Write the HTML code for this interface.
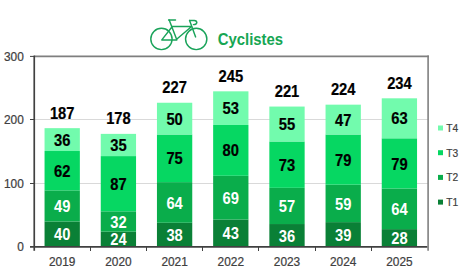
<!DOCTYPE html>
<html><head><meta charset="utf-8"><style>
html,body{margin:0;padding:0;background:#fff;}
svg{display:block;}
text{font-family:"Liberation Sans",sans-serif;}
.lb{font-size:16px;font-weight:bold;text-anchor:middle;stroke-width:0.2px;}
.ax{font-size:13.2px;fill:#404040;stroke:#404040;stroke-width:0.25px;}
.lg{font-size:11px;fill:#404040;stroke:#404040;stroke-width:0.2px;}
.tt{font-size:16px;font-weight:bold;fill:#16a653;}
</style></head><body>
<svg width="465" height="275" viewBox="0 0 465 275">
<line x1="34" y1="183.5" x2="428" y2="183.5" stroke="#d9d9d9" stroke-width="1.2"/>
<line x1="34" y1="119.5" x2="428" y2="119.5" stroke="#d9d9d9" stroke-width="1.2"/>
<rect x="44.55" y="221.50" width="35.3" height="25.40" fill="#0a8036"/>
<rect x="44.55" y="190.38" width="35.3" height="31.12" fill="#0aad4b"/>
<rect x="44.55" y="151.01" width="35.3" height="39.37" fill="#06d762"/>
<rect x="44.55" y="128.16" width="35.3" height="22.86" fill="#72fbad"/>
<text transform="translate(62.20,240.30) scale(0.92,1)" class="lb" fill="#fff">40</text>
<text transform="translate(62.20,212.04) scale(0.92,1)" class="lb" fill="#fff">49</text>
<text transform="translate(62.20,176.80) scale(0.92,1)" class="lb" fill="#000" stroke="#000">62</text>
<text transform="translate(62.20,145.68) scale(0.92,1)" class="lb" fill="#000" stroke="#000">36</text>
<text transform="translate(62.20,118.75) scale(0.92,1)" class="lb" fill="#000" stroke="#000">187</text>
<text transform="translate(62.20,266.20) scale(0.9,1)" class="ax" text-anchor="middle">2019</text>
<rect x="100.75" y="231.66" width="35.3" height="15.24" fill="#0a8036"/>
<rect x="100.75" y="211.34" width="35.3" height="20.32" fill="#0aad4b"/>
<rect x="100.75" y="156.09" width="35.3" height="55.25" fill="#06d762"/>
<rect x="100.75" y="133.87" width="35.3" height="22.22" fill="#72fbad"/>
<text transform="translate(118.40,245.38) scale(0.92,1)" class="lb" fill="#fff">24</text>
<text transform="translate(118.40,227.60) scale(0.92,1)" class="lb" fill="#fff">32</text>
<text transform="translate(118.40,189.82) scale(0.92,1)" class="lb" fill="#000" stroke="#000">87</text>
<text transform="translate(118.40,151.08) scale(0.92,1)" class="lb" fill="#000" stroke="#000">35</text>
<text transform="translate(118.40,124.47) scale(0.92,1)" class="lb" fill="#000" stroke="#000">178</text>
<text transform="translate(118.40,266.20) scale(0.9,1)" class="ax" text-anchor="middle">2020</text>
<rect x="156.95" y="222.77" width="35.3" height="24.13" fill="#0a8036"/>
<rect x="156.95" y="182.13" width="35.3" height="40.64" fill="#0aad4b"/>
<rect x="156.95" y="134.50" width="35.3" height="47.62" fill="#06d762"/>
<rect x="156.95" y="102.75" width="35.3" height="31.75" fill="#72fbad"/>
<text transform="translate(174.60,240.94) scale(0.92,1)" class="lb" fill="#fff">38</text>
<text transform="translate(174.60,208.55) scale(0.92,1)" class="lb" fill="#fff">64</text>
<text transform="translate(174.60,164.42) scale(0.92,1)" class="lb" fill="#000" stroke="#000">75</text>
<text transform="translate(174.60,124.73) scale(0.92,1)" class="lb" fill="#000" stroke="#000">50</text>
<text transform="translate(174.60,93.35) scale(0.92,1)" class="lb" fill="#000" stroke="#000">227</text>
<text transform="translate(174.60,266.20) scale(0.9,1)" class="ax" text-anchor="middle">2021</text>
<rect x="213.15" y="219.59" width="35.3" height="27.31" fill="#0a8036"/>
<rect x="213.15" y="175.78" width="35.3" height="43.81" fill="#0aad4b"/>
<rect x="213.15" y="124.98" width="35.3" height="50.80" fill="#06d762"/>
<rect x="213.15" y="91.33" width="35.3" height="33.65" fill="#72fbad"/>
<text transform="translate(230.80,239.35) scale(0.92,1)" class="lb" fill="#fff">43</text>
<text transform="translate(230.80,203.79) scale(0.92,1)" class="lb" fill="#fff">69</text>
<text transform="translate(230.80,156.48) scale(0.92,1)" class="lb" fill="#000" stroke="#000">80</text>
<text transform="translate(230.80,114.25) scale(0.92,1)" class="lb" fill="#000" stroke="#000">53</text>
<text transform="translate(230.80,81.93) scale(0.92,1)" class="lb" fill="#000" stroke="#000">245</text>
<text transform="translate(230.80,266.20) scale(0.9,1)" class="ax" text-anchor="middle">2022</text>
<rect x="269.35" y="224.04" width="35.3" height="22.86" fill="#0a8036"/>
<rect x="269.35" y="187.84" width="35.3" height="36.20" fill="#0aad4b"/>
<rect x="269.35" y="141.49" width="35.3" height="46.35" fill="#06d762"/>
<rect x="269.35" y="106.56" width="35.3" height="34.93" fill="#72fbad"/>
<text transform="translate(287.00,241.57) scale(0.92,1)" class="lb" fill="#fff">36</text>
<text transform="translate(287.00,212.04) scale(0.92,1)" class="lb" fill="#fff">57</text>
<text transform="translate(287.00,170.77) scale(0.92,1)" class="lb" fill="#000" stroke="#000">73</text>
<text transform="translate(287.00,130.13) scale(0.92,1)" class="lb" fill="#000" stroke="#000">55</text>
<text transform="translate(287.00,97.16) scale(0.92,1)" class="lb" fill="#000" stroke="#000">221</text>
<text transform="translate(287.00,266.20) scale(0.9,1)" class="ax" text-anchor="middle">2023</text>
<rect x="325.55" y="222.13" width="35.3" height="24.77" fill="#0a8036"/>
<rect x="325.55" y="184.67" width="35.3" height="37.46" fill="#0aad4b"/>
<rect x="325.55" y="134.50" width="35.3" height="50.17" fill="#06d762"/>
<rect x="325.55" y="104.66" width="35.3" height="29.84" fill="#72fbad"/>
<text transform="translate(343.20,240.62) scale(0.92,1)" class="lb" fill="#fff">39</text>
<text transform="translate(343.20,209.50) scale(0.92,1)" class="lb" fill="#fff">59</text>
<text transform="translate(343.20,165.69) scale(0.92,1)" class="lb" fill="#000" stroke="#000">79</text>
<text transform="translate(343.20,125.68) scale(0.92,1)" class="lb" fill="#000" stroke="#000">47</text>
<text transform="translate(343.20,95.26) scale(0.92,1)" class="lb" fill="#000" stroke="#000">224</text>
<text transform="translate(343.20,266.20) scale(0.9,1)" class="ax" text-anchor="middle">2024</text>
<rect x="381.75" y="229.12" width="35.3" height="17.78" fill="#0a8036"/>
<rect x="381.75" y="188.48" width="35.3" height="40.64" fill="#0aad4b"/>
<rect x="381.75" y="138.31" width="35.3" height="50.17" fill="#06d762"/>
<rect x="381.75" y="98.31" width="35.3" height="40.00" fill="#72fbad"/>
<text transform="translate(399.40,244.11) scale(0.92,1)" class="lb" fill="#fff">28</text>
<text transform="translate(399.40,214.90) scale(0.92,1)" class="lb" fill="#fff">64</text>
<text transform="translate(399.40,169.50) scale(0.92,1)" class="lb" fill="#000" stroke="#000">79</text>
<text transform="translate(399.40,124.41) scale(0.92,1)" class="lb" fill="#000" stroke="#000">63</text>
<text transform="translate(399.40,88.91) scale(0.92,1)" class="lb" fill="#000" stroke="#000">234</text>
<text transform="translate(399.40,266.20) scale(0.9,1)" class="ax" text-anchor="middle">2025</text>
<line x1="34" y1="56.4" x2="428.9" y2="56.4" stroke="#7f7f7f" stroke-width="1.6"/>
<line x1="428.1" y1="55.6" x2="428.1" y2="250.8" stroke="#7f7f7f" stroke-width="1.6"/>
<line x1="34.25" y1="55.6" x2="34.25" y2="250.8" stroke="#404040" stroke-width="1.7"/>
<line x1="30" y1="246.8" x2="427.3" y2="246.8" stroke="#404040" stroke-width="1.7"/>
<line x1="30" y1="183.5" x2="34" y2="183.5" stroke="#404040" stroke-width="1"/>
<line x1="30" y1="119.5" x2="34" y2="119.5" stroke="#404040" stroke-width="1"/>
<line x1="30" y1="56.4" x2="34" y2="56.4" stroke="#404040" stroke-width="1"/>
<line x1="90.5" y1="247" x2="90.5" y2="251" stroke="#404040" stroke-width="1"/>
<line x1="146.5" y1="247" x2="146.5" y2="251" stroke="#404040" stroke-width="1"/>
<line x1="202.5" y1="247" x2="202.5" y2="251" stroke="#404040" stroke-width="1"/>
<line x1="258.5" y1="247" x2="258.5" y2="251" stroke="#404040" stroke-width="1"/>
<line x1="315.5" y1="247" x2="315.5" y2="251" stroke="#404040" stroke-width="1"/>
<line x1="371.5" y1="247" x2="371.5" y2="251" stroke="#404040" stroke-width="1"/>
<text transform="translate(23.80,251.30) scale(0.9,1)" class="ax" text-anchor="end">0</text>
<text transform="translate(23.80,187.90) scale(0.9,1)" class="ax" text-anchor="end">100</text>
<text transform="translate(23.80,123.90) scale(0.9,1)" class="ax" text-anchor="end">200</text>
<text transform="translate(23.80,60.80) scale(0.9,1)" class="ax" text-anchor="end">300</text>
<rect x="438" y="125.50" width="5" height="5" fill="#72fbad"/>
<text transform="translate(446.30,132.00) scale(0.93,1)" class="lg" >T4</text>
<rect x="438" y="150.20" width="5" height="5" fill="#06d762"/>
<text transform="translate(446.30,156.70) scale(0.93,1)" class="lg" >T3</text>
<rect x="438" y="174.90" width="5" height="5" fill="#0aad4b"/>
<text transform="translate(446.30,181.40) scale(0.93,1)" class="lg" >T2</text>
<rect x="438" y="199.60" width="5" height="5" fill="#0a8036"/>
<text transform="translate(446.30,206.10) scale(0.93,1)" class="lg" >T1</text>
<text transform="translate(217.70,44.90) scale(0.932,1)" class="tt" >Cyclistes</text>
<g fill="none" stroke="#1aa35a" stroke-width="1.45" stroke-linecap="round" stroke-linejoin="round">
<circle cx="161.45" cy="38.95" r="10.65"/>
<circle cx="196.2" cy="38.95" r="10.65"/>
<path d="M168.6 19.9 H175.5"/>
<path d="M169.2 19.9 L176.9 39.9 L161.8 39.9 L172.3 26.5 H191.6 L177.2 38.8"/>
<path d="M189.6 20.5 L195.6 36.9"/>
<path d="M189.6 20.5 H194.3 Q196.8 20.6 196.8 22.6 Q196.6 24.5 193.4 24.6"/>
</g>
</svg>
</body></html>
